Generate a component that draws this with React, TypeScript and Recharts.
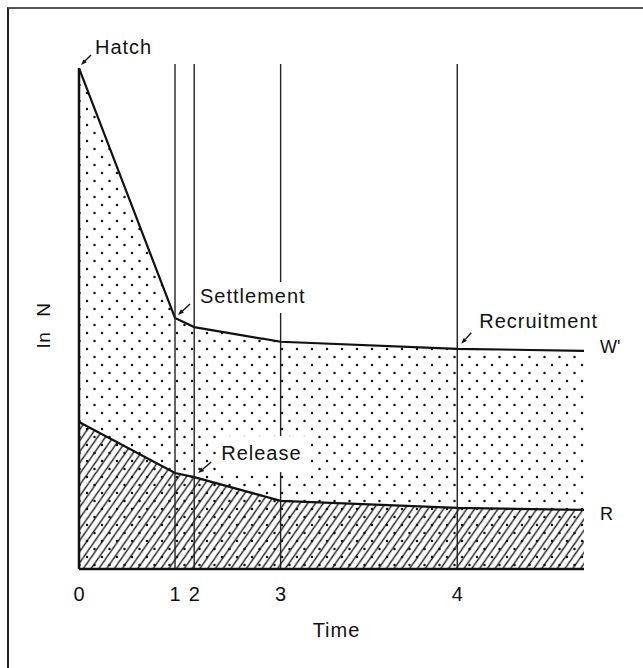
import { ComposedChart, Area, XAxis, YAxis, ReferenceLine, ReferenceDot, Label } from "recharts";

// time axis (arbitrary units) and ln N values
const timePoints = [0, 1.0, 1.2, 2.1, 3.94, 5.26];
const wildCurve = [9.92, 4.97, 4.79, 4.5, 4.36, 4.32];
const releaseCurve = [2.91, 1.9, 1.82, 1.35, 1.21, 1.17];
const stageTicks = [0, 1.0, 1.2, 2.1, 3.94];
const stageLabels = ["0", "1", "2", "3", "4"];
const stageLines = [1.0, 1.2, 2.1, 3.94];
const eventNames = ["Hatch", "Settlement", "Release", "Recruitment"];
const eventTimes = [0, 1.0, 1.2, 3.94];
const eventSeries = ["W", "W", "R", "W"];

const data = timePoints.map((t, i) => ({ t, W: wildCurve[i], R: releaseCurve[i] }));

const FONT = "'Liberation Sans', Arial, sans-serif";
const INK = "#111";

// offsets of text / arrow relative to the marked point
const noteStyle: Record<string, any> = {
  Hatch: { tx: 16, ty: -14, ax: 12, ay: -13, bx: 2, by: -3 },
  Settlement: { tx: 25, ty: -15, ax: 15, ay: -14, bx: 3, by: -3, box: [22, -36, 112, 31] },
  Release: { tx: 27, ty: -17, ax: 17, ay: -15, bx: 4, by: -4, box: [24, -41, 88, 36] },
  Recruitment: { tx: 22, ty: -21, ax: 14, ay: -16, bx: 4, by: -5 },
};

function Note({ cx, cy, text }: { cx: number; cy: number; text: string }) {
  const s = noteStyle[text];
  const x1 = cx + s.ax, y1 = cy + s.ay, x2 = cx + s.bx, y2 = cy + s.by;
  const dx = x2 - x1, dy = y2 - y1;
  const len = Math.hypot(dx, dy);
  const ux = dx / len, uy = dy / len;
  const hx = x2 - ux * 6, hy = y2 - uy * 6;
  return (
    <g>
      {s.box && (
        <rect x={cx + s.box[0]} y={cy + s.box[1]} width={s.box[2]} height={s.box[3]} fill="#fff" />
      )}
      <line x1={x1} y1={y1} x2={hx} y2={hy} stroke={INK} strokeWidth={1.4} />
      <polygon
        points={`${x2},${y2} ${hx - uy * 2.2},${hy + ux * 2.2} ${hx + uy * 2.2},${hy - ux * 2.2}`}
        fill={INK}
      />
      <text x={cx + s.tx} y={cy + s.ty} fontSize={20} fontFamily={FONT} letterSpacing={1} fill={INK}>
        {text}
      </text>
    </g>
  );
}

function EndLabel({ cx, cy, text, dy }: { cx: number; cy: number; text: string; dy: number }) {
  return (
    <text x={cx + 16} y={cy + dy} fontSize={18} fontFamily={FONT} fill={INK}>
      {text}
    </text>
  );
}

export default function App() {
  const last = timePoints.length - 1;
  return (
    <div
      style={{
        position: "fixed",
        left: 7,
        top: 7,
        borderTop: "2px solid #555",
        borderLeft: "2px solid #222",
        width: 634,
        height: 659,
        background: "#fff",
      }}
    >
      <ComposedChart
        width={634}
        height={659}
        data={data}
        margin={{ top: 55, right: 59, left: 70, bottom: 69 }}
      >
        <defs>
          <pattern id="dots" width="15" height="16" patternUnits="userSpaceOnUse">
            <rect width="15" height="16" fill="#fff" />
            <circle cx="3" cy="4" r="1.25" fill="#111" />
            <circle cx="10.5" cy="12" r="1.25" fill="#111" />
          </pattern>
          <pattern
            id="hatch"
            width="9"
            height="9"
            patternUnits="userSpaceOnUse"
            patternTransform="rotate(-10)"
          >
            <path d="M-2,2 l4,-4 M0,9 l9,-9 M7,11 l4,-4" stroke="#111" strokeWidth="1.3" />
          </pattern>
        </defs>
        <XAxis
          dataKey="t"
          type="number"
          domain={[0, 5.26]}
          ticks={stageTicks}
          tickFormatter={(v: number) => stageLabels[stageTicks.indexOf(v)] ?? ""}
          tick={{ fontSize: 20, fill: INK, fontFamily: FONT }}
          tickLine={false}
          axisLine={false}
          tickMargin={12}
          interval={0}
        >
          <Label
            value="Time"
            position="bottom"
            offset={24}
            dx={5}
            style={{ fontSize: 20, fill: INK, fontFamily: FONT, letterSpacing: 1 }}
          />
        </XAxis>
        <YAxis hide domain={[0, 10]} type="number" />
        <Area
          type="linear"
          dataKey="W"
          stroke={INK}
          strokeWidth={2.2}
          fill="url(#dots)"
          fillOpacity={1}
          isAnimationActive={false}
          dot={false}
          activeDot={false}
        />
        <Area
          type="linear"
          dataKey="R"
          stroke={INK}
          strokeWidth={2.2}
          fill="url(#hatch)"
          fillOpacity={1}
          isAnimationActive={false}
          dot={false}
          activeDot={false}
        />
        {stageLines.map((t) => (
          <ReferenceLine key={t} x={t} stroke="#222" strokeWidth={1.4} />
        ))}
        <ReferenceLine
          segment={[
            { x: 0, y: 0 },
            { x: 0, y: wildCurve[0] },
          ]}
          stroke={INK}
          strokeWidth={2.5}
        />
        <ReferenceLine y={0} stroke={INK} strokeWidth={2.5} />
        {eventNames.map((name, i) => {
          const idx = timePoints.indexOf(eventTimes[i]);
          const v = eventSeries[i] === "W" ? wildCurve[idx] : releaseCurve[idx];
          return (
            <ReferenceDot
              key={name}
              x={eventTimes[i]}
              y={v}
              r={0}
              shape={(p: any) => <Note cx={p.cx} cy={p.cy} text={name} />}
            />
          );
        })}
        <ReferenceDot
          x={timePoints[last]}
          y={wildCurve[last]}
          r={0}
          shape={(p: any) => <EndLabel cx={p.cx} cy={p.cy} text="W'" dy={2} />}
        />
        <ReferenceDot
          x={timePoints[last]}
          y={releaseCurve[last]}
          r={0}
          shape={(p: any) => <EndLabel cx={p.cx} cy={p.cy} text="R" dy={10} />}
        />
        <text
          x={34}
          y={316}
          transform="rotate(-90 34 316)"
          textAnchor="middle"
          dominantBaseline="central"
          fontSize={19}
          fontFamily={FONT}
          letterSpacing={1}
          wordSpacing={8}
          fill={INK}
        >
          ln N
        </text>
      </ComposedChart>
    </div>
  );
}
